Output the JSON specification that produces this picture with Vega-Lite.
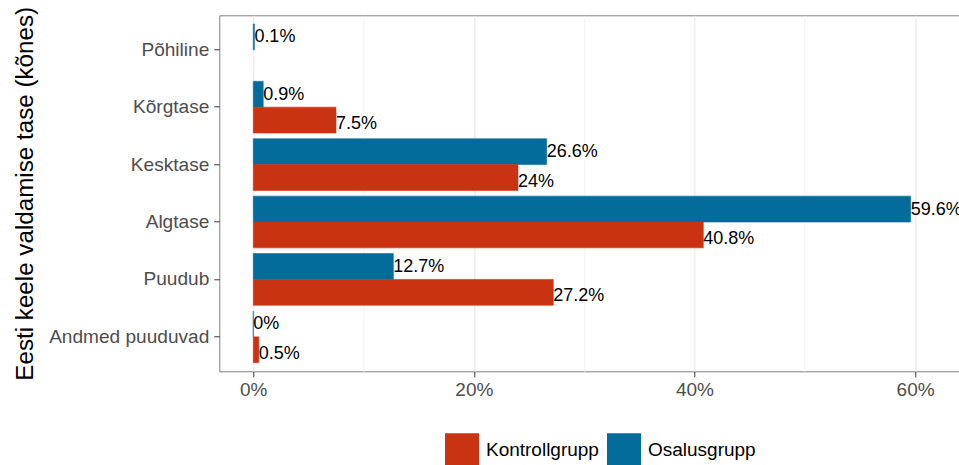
{
  "$schema": "https://vega.github.io/schema/vega-lite/v6.json",
  "width": 742,
  "height": 356,
  "autosize": {"type": "none"},
  "padding": {"left": 219.3, "top": 15.3, "right": 0, "bottom": 94},
  "background": "white",
  "config": {
    "font": "Liberation Sans",
    "view": {"stroke": "#7F7F7F", "strokeWidth": 1}
  },
  "data": {
    "values": [
      {"level": "Põhiline", "group": "Osalusgrupp", "value": 0.001},
      {"level": "Kõrgtase", "group": "Osalusgrupp", "value": 0.009},
      {"level": "Kõrgtase", "group": "Kontrollgrupp", "value": 0.075},
      {"level": "Kesktase", "group": "Osalusgrupp", "value": 0.266},
      {"level": "Kesktase", "group": "Kontrollgrupp", "value": 0.24},
      {"level": "Algtase", "group": "Osalusgrupp", "value": 0.596},
      {"level": "Algtase", "group": "Kontrollgrupp", "value": 0.408},
      {"level": "Puudub", "group": "Osalusgrupp", "value": 0.127},
      {"level": "Puudub", "group": "Kontrollgrupp", "value": 0.272},
      {"level": "Andmed puuduvad", "group": "Osalusgrupp", "value": 0},
      {"level": "Andmed puuduvad", "group": "Kontrollgrupp", "value": 0.005}
    ]
  },
  "encoding": {
    "y": {
      "field": "level",
      "type": "nominal",
      "sort": ["Põhiline", "Kõrgtase", "Kesktase", "Algtase", "Puudub", "Andmed puuduvad"],
      "scale": {"paddingInner": 0.1, "paddingOuter": 0.15},
      "axis": {
        "title": "Eesti keele valdamise tase (kõnes)",
        "titleFontSize": 24.2,
        "titleFontWeight": "normal",
        "titleColor": "#000000",
        "titleX": -186.5,
        "titleY": 178,
        "titleAngle": -90,
        "titleAlign": "center",
        "titleBaseline": "alphabetic",
        "labelFontSize": 19.1,
        "labelColor": "#4D4D4D",
        "labelPadding": 5,
        "tickSize": 5.5,
        "tickColor": "#333333",
        "tickWidth": 1,
        "domain": false,
        "grid": false
      }
    },
    "yOffset": {
      "field": "group",
      "type": "nominal",
      "sort": ["Osalusgrupp", "Kontrollgrupp"],
      "scale": {"paddingInner": 0, "paddingOuter": 0}
    },
    "x": {
      "field": "value",
      "type": "quantitative",
      "stack": null,
      "scale": {"domain": [-0.0308, 0.6419], "nice": false, "zero": false},
      "axis": {
        "title": null,
        "values": [0, 0.1, 0.2, 0.3, 0.4, 0.5, 0.6],
        "format": ".0%",
        "labelExpr": "round(datum.value * 10) % 2 == 1 ? '' : datum.label",
        "labelFontSize": 19,
        "labelColor": "#4D4D4D",
        "labelPadding": 4,
        "tickSize": 5.5,
        "tickColor": "#333333",
        "tickWidth": 1,
        "tickOpacity": {"condition": {"test": "round(datum.value * 10) % 2 == 1", "value": 0}, "value": 1},
        "domain": false,
        "grid": true,
        "gridColor": {"condition": {"test": "round(datum.value * 10) % 2 == 1", "value": "#F2F2F2"}, "value": "#EBEBEB"},
        "gridWidth": {"condition": {"test": "round(datum.value * 10) % 2 == 1", "value": 1}, "value": 1.3}
      }
    }
  },
  "layer": [
    {
      "mark": {"type": "bar", "strokeWidth": 0.6},
      "encoding": {
        "color": {
          "field": "group",
          "type": "nominal",
          "scale": {"domain": ["Kontrollgrupp", "Osalusgrupp"], "range": ["#C93312", "#046C9A"]},
          "legend": {
            "title": null,
            "orient": "none",
            "direction": "horizontal",
            "legendX": 225.7,
            "legendY": 418,
            "padding": 0,
            "symbolType": "square",
            "symbolSize": 1156,
            "symbolStrokeWidth": 0,
            "symbolOpacity": 1,
            "labelFontSize": 19,
            "labelColor": "#000000",
            "labelOffset": 7,
            "columnPadding": 7
          }
        },
        "stroke": {
          "field": "group",
          "type": "nominal",
          "scale": {"domain": ["Kontrollgrupp", "Osalusgrupp"], "range": ["#C93312", "#046C9A"]},
          "legend": null
        }
      }
    },
    {
      "transform": [{"filter": "datum.group == 'Osalusgrupp'"}],
      "mark": {"type": "text", "align": "left", "baseline": "middle", "fontSize": 18, "color": "#000000", "dx": 0, "dy": 0.5},
      "encoding": {
        "text": {"field": "value", "type": "quantitative", "format": ".1~%"}
      }
    },
    {
      "transform": [{"filter": "datum.group == 'Kontrollgrupp'"}],
      "mark": {"type": "text", "align": "left", "baseline": "middle", "fontSize": 18, "color": "#000000", "dx": 0, "dy": 4},
      "encoding": {
        "text": {"field": "value", "type": "quantitative", "format": ".1~%"}
      }
    }
  ]
}
